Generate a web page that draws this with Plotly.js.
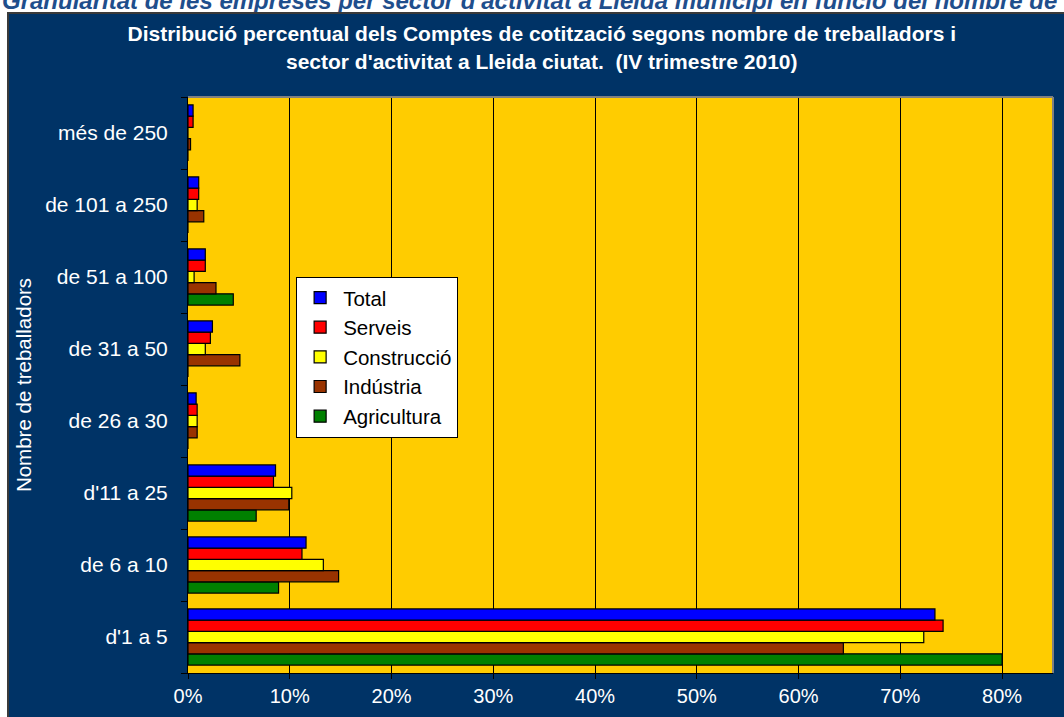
<!DOCTYPE html>
<html>
<head>
<meta charset="utf-8">
<script src="https://cdn.plot.ly/plotly-3.0.1.min.js"></script>
<style>
  html, body { margin: 0; padding: 0; background: #ffffff; width: 1064px; height: 717px; overflow: hidden; }
  #hdr { position: absolute; left: 2px; top: -13px; white-space: nowrap;
         font-family: Arial, "Liberation Sans", sans-serif; font-size: 24px; font-weight: bold; font-style: italic; color: #1F4E8C; }
  #frame { position: absolute; left: 7px; top: 12px; width: 1057px; height: 705px; background: #003366;
           border-left: 2px solid #3a3a3a; border-top: 2px solid #3a3a3a; box-sizing: border-box; }
  #chart { position: absolute; left: 9px; top: 14px; width: 1055px; height: 703px; }
</style>
</head>
<body>
<div id="hdr">Granularitat de les empreses per sector d'activitat a Lleida municipi en funció del nombre de treballadors</div>
<div id="frame"></div>
<div id="chart"></div>
<script>
const categories = ["d'1 a 5", "de 6 a 10", "d'11 a 25", "de 26 a 30", "de 31 a 50", "de 51 a 100", "de 101 a 250", "més de 250"];
const total       = [73.4, 11.6, 8.6, 0.8, 2.4, 1.7, 1.05, 0.5];
const serveis     = [74.2, 11.2, 8.4, 0.9, 2.2, 1.7, 1.05, 0.5];
const construccio = [72.3, 13.3, 10.2, 0.9, 1.7, 0.6, 0.9, 0];
const industria   = [64.4, 14.8, 9.9, 0.9, 5.1, 2.75, 1.55, 0.25];
const agricultura = [80.0, 8.9, 6.7, 0, 0, 4.45, 0, 0];
const xTickVals   = [0, 10, 20, 30, 40, 50, 60, 70, 80];
const xTickText   = ["0%", "10%", "20%", "30%", "40%", "50%", "60%", "70%", "80%"];

const series = [
  {name: "Agricultura", x: agricultura, color: "#008000"},
  {name: "Indústria",   x: industria,   color: "#993300"},
  {name: "Construcció", x: construccio, color: "#FFFF00"},
  {name: "Serveis",     x: serveis,     color: "#FF0000"},
  {name: "Total",       x: total,       color: "#0000FF"}
];

const traces = series.map(s => ({
  type: "bar", orientation: "h", name: s.name, x: s.x, y: categories,
  marker: {color: s.color, line: {color: "#000000", width: 1.2}},
  hoverinfo: "x+name"
}));

const font = "Arial, 'Liberation Sans', sans-serif";

const layout = {
  width: 1055, height: 703,
  paper_bgcolor: "rgba(0,0,0,0)",
  plot_bgcolor: "#FFCC00",
  margin: {l: 179, r: 11, t: 83, b: 44, pad: 0},
  barmode: "group", bargap: 0.22, bargroupgap: 0,
  title: {
    text: "Distribució percentual dels Comptes de cotització segons nombre de treballadors i<br>sector d'activitat a Lleida ciutat.  (IV trimestre 2010)",
    font: {family: font, size: 21, color: "#ffffff", weight: "bold"},
    x: 0.505, xref: "container", xanchor: "center",
    y: 0.961, yref: "container", yanchor: "middle"
  },
  xaxis: {
    range: [0, 85], tickvals: xTickVals, ticktext: xTickText,
    showgrid: true, gridcolor: "#000000", gridwidth: 1,
    zeroline: false, showline: true, linecolor: "#000000", linewidth: 1,
    ticks: "outside", ticklen: 5, tickcolor: "#000000",
    tickfont: {family: font, size: 20, color: "#ffffff"},
    fixedrange: true
  },
  yaxis: {
    type: "category", categoryorder: "array", categoryarray: categories,
    showgrid: false, zeroline: false, showline: true, linecolor: "#000000", linewidth: 1,
    ticks: "outside", ticklen: 6, tickcolor: "#000000", tickson: "boundaries",
    ticklabelstandoff: 15,
    tickfont: {family: font, size: 21, color: "#ffffff"},
    title: {text: "Nombre de treballadors", font: {family: font, size: 20.5, color: "#ffffff"}, standoff: 7},
    fixedrange: true
  },
  legend: {
    x: 0.125, y: 0.688, xanchor: "left", yanchor: "top",
    bgcolor: "#ffffff", bordercolor: "#000000", borderwidth: 1,
    font: {family: font, size: 20.5, color: "#000000"},
    traceorder: "reversed", itemwidth: 36
  },
  shapes: [
    {type: "line", xref: "paper", yref: "paper", x0: 0, x1: 1, y0: 1, y1: 1, line: {color: "#808080", width: 2}},
    {type: "line", xref: "paper", yref: "paper", x0: 1, x1: 1, y0: 0, y1: 1, line: {color: "#808080", width: 2}}
  ],
  showlegend: true
};

Plotly.newPlot("chart", traces, layout, {displayModeBar: false, staticPlot: true});
</script>
</body>
</html>
